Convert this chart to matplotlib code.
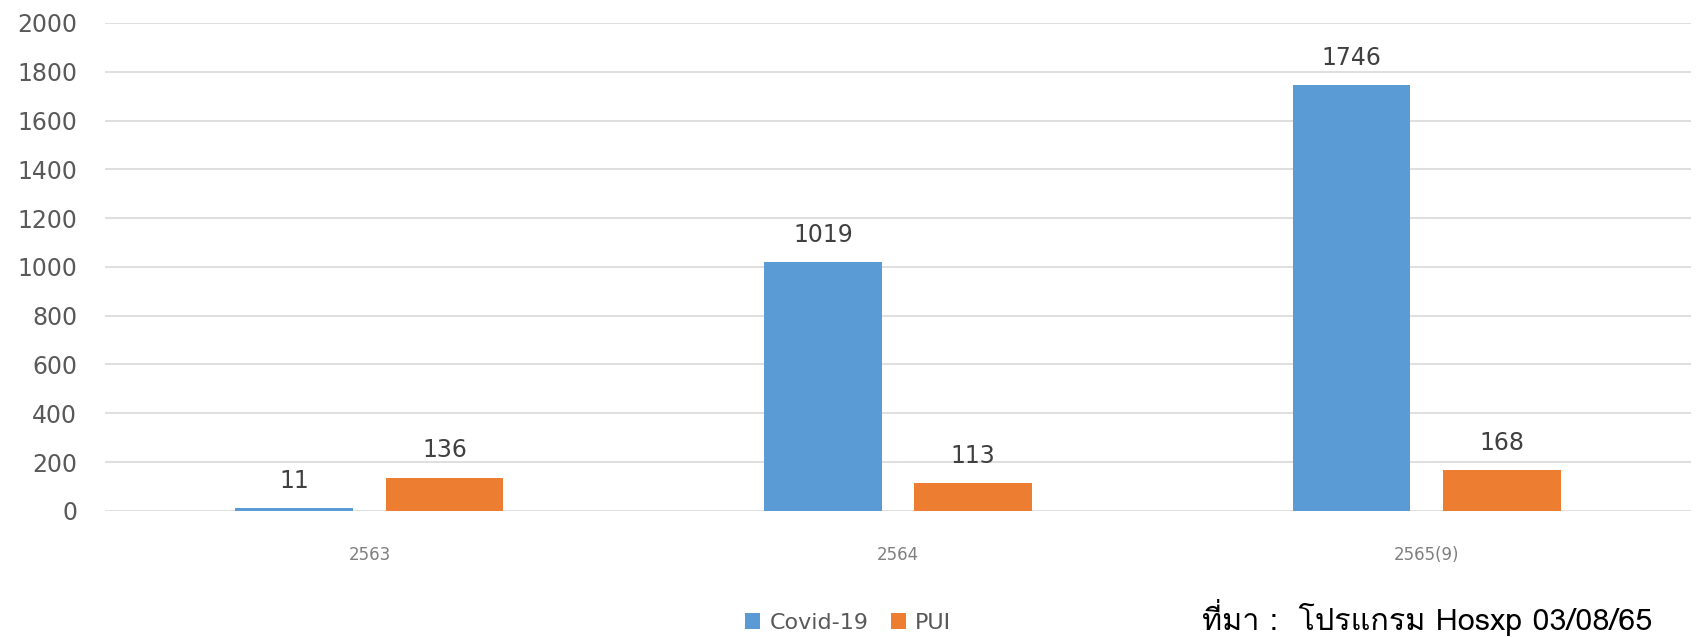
import numpy as np
import matplotlib
matplotlib.use('Agg')
import matplotlib.pyplot as plt
from matplotlib import font_manager
from matplotlib.ft2font import FT2Font

years = ['2563', '2564', '2565(9)']
covid = [11, 1019, 1746]
pui = [136, 113, 168]
series_names = ['Covid-19', 'PUI']
source_text = 'ที่มา :  โปรแกรม Hosxp 03/08/65'

# find an installed font that has Thai glyphs
thai_font = None
for f in font_manager.fontManager.ttflist:
  try:
    if FT2Font(f.fname).get_char_index(ord('ท')):
      thai_font = f.name
      break
  except Exception:
    pass
fams = ['DejaVu Sans'] if thai_font is None else [thai_font, 'DejaVu Sans']

blue = '#5B9BD5'
orange = '#ED7D31'
grey = '#595959'

fig = plt.figure(figsize=(16.96, 6.37), dpi=100)
ax = fig.add_axes([0.062, 0.198, 0.935, 0.766])

x = np.arange(len(years))
w = 0.223
off = 0.142
b1 = ax.bar(x - off, covid, w, color=blue, label=series_names[0], zorder=3)
b2 = ax.bar(x + off, pui, w, color=orange, label=series_names[1], zorder=3)

for bars in (b1, b2):
  for r in bars:
    ax.annotate('%d' % r.get_height(), (r.get_x() + r.get_width()/2, r.get_height()),
                xytext=(0, 11), textcoords='offset points', ha='center', va='bottom',
                fontsize=17, color='#404040')

ax.set_xlim(-0.5, len(years) - 0.5)
ax.set_ylim(0, 2000)
ax.set_yticks(range(0, 2001, 200))
ax.set_xticks(x)
ax.set_xticklabels(years)
ax.yaxis.grid(True, color='#D9D9D9', linewidth=1.2, zorder=0)
for s in ax.spines.values():
  s.set_visible(False)
ax.tick_params(axis='y', length=0, labelsize=17, labelcolor=grey, pad=20)
ax.tick_params(axis='x', length=0, labelsize=12, labelcolor='#7F7F7F', pad=25)

fig.legend(loc='center', bbox_to_anchor=(0.50, 0.022), ncol=2, frameon=False,
           fontsize=16, handlelength=0.7, handleheight=0.7, columnspacing=1.0,
           handletextpad=0.4, labelcolor=grey)

fig.text(0.709, 0.03, source_text, fontsize=22, color='black', va='center',
         ha='left', family=fams)

plt.savefig('out.png', dpi=100)
plt.close(fig)
